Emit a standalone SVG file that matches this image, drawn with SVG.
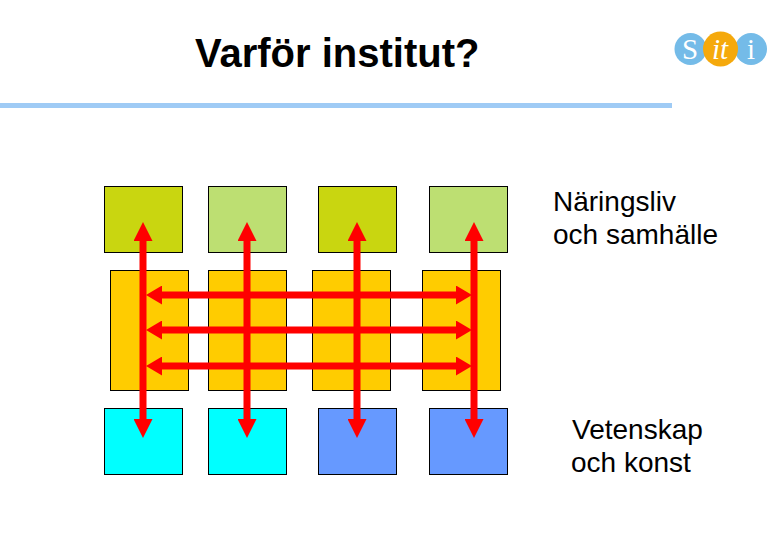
<svg xmlns="http://www.w3.org/2000/svg" width="780" height="540" viewBox="0 0 780 540">
<style>
.box{stroke:#000;stroke-width:1}
.conn{stroke:#f00;stroke-width:7;fill:none}
.v{marker-start:url(#av);marker-end:url(#av)}
.h{marker-start:url(#ah);marker-end:url(#ah)}
.t{font-family:"Liberation Sans",Arial,sans-serif;fill:#000}
.body{font-size:28px}
.logo{font-family:"Liberation Serif","Times New Roman",serif;font-size:29px;fill:#fff;text-anchor:middle}
</style>
<defs>
<marker id="av" markerUnits="userSpaceOnUse" markerWidth="19" markerHeight="19" refX="0" refY="9.500" orient="auto-start-reverse" viewBox="0 0 19 19"><path d="M0 0L19 9.500L0 19Z" fill="#f00"/></marker>
<marker id="ah" markerUnits="userSpaceOnUse" markerWidth="16" markerHeight="19" refX="0" refY="9.500" orient="auto-start-reverse" viewBox="0 0 16 19"><path d="M0 0L16 9.500L0 19Z" fill="#f00"/></marker>
</defs>
<rect width="780" height="540" fill="#fff"/>
<text id="title" class="t" x="195" y="67" font-size="40" font-weight="bold">Varför institut?</text>
<rect id="rule" x="0" y="103" width="672" height="5" fill="#9fcbf5"/>
<g id="logo">
<circle cx="690.500" cy="49" r="16" fill="#74bbe8"/>
<circle cx="751" cy="49" r="16" fill="#74bbe8"/>
<circle cx="720.500" cy="49" r="17.500" fill="#f5a90c"/>
<text class="logo" x="690" y="59">S</text>
<text class="logo" x="720" y="59" font-style="italic">it</text>
<text class="logo" x="751" y="59">i</text>
</g>
<g id="n1"><rect class="box" x="104.500" y="186.500" width="78" height="66" fill="#c9d610"/></g>
<g id="n2"><rect class="box" x="208.500" y="186.500" width="78" height="66" fill="#bddf72"/></g>
<g id="n3"><rect class="box" x="318.500" y="186.500" width="78" height="66" fill="#c9d610"/></g>
<g id="n4"><rect class="box" x="429.500" y="186.500" width="78" height="66" fill="#bddf72"/></g>
<g id="n5"><rect class="box" x="110.500" y="270.500" width="78" height="120" fill="#ffcc00"/></g>
<g id="n6"><rect class="box" x="208.500" y="270.500" width="78" height="120" fill="#ffcc00"/></g>
<g id="n7"><rect class="box" x="312.500" y="270.500" width="78" height="120" fill="#ffcc00"/></g>
<g id="n8"><rect class="box" x="422.500" y="270.500" width="78" height="120" fill="#ffcc00"/></g>
<g id="n9"><rect class="box" x="104.500" y="408.500" width="78" height="66" fill="#00ffff"/></g>
<g id="n10"><rect class="box" x="208.500" y="408.500" width="78" height="66" fill="#00ffff"/></g>
<g id="n11"><rect class="box" x="318.500" y="408.500" width="78" height="66" fill="#6699ff"/></g>
<g id="n12"><rect class="box" x="429.500" y="408.500" width="78" height="66" fill="#6699ff"/></g>
<g id="connectors">
<line class="conn v" x1="143" y1="241" x2="143" y2="419"/>
<line class="conn v" x1="247" y1="241" x2="247" y2="419"/>
<line class="conn v" x1="357" y1="241" x2="357" y2="419"/>
<line class="conn v" x1="474" y1="241" x2="474" y2="419"/>
<line class="conn h" x1="162" y1="295" x2="456" y2="295"/>
<line class="conn h" x1="162" y1="330" x2="456" y2="330"/>
<line class="conn h" x1="162" y1="366" x2="456" y2="366"/>
</g>
<g id="label1"><text class="t body" x="553" y="211">Näringsliv</text><text class="t body" x="553" y="244">och samhälle</text></g>
<g id="label2"><text class="t body" x="572" y="439">Vetenskap</text><text class="t body" x="571" y="472">och konst</text></g>
</svg>
